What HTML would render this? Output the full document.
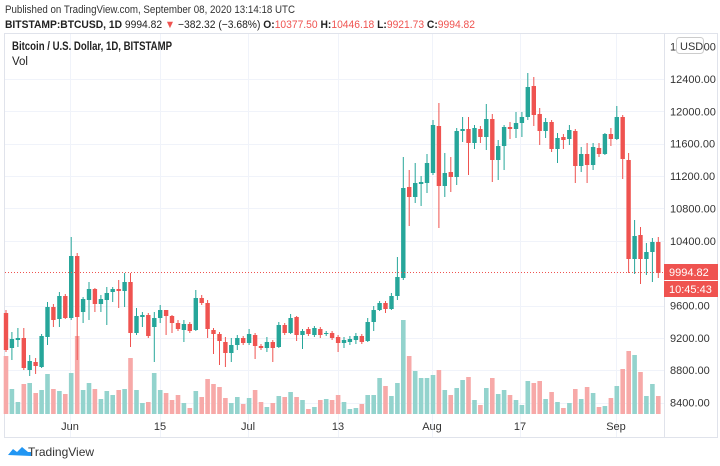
<!DOCTYPE html>
<html><head><meta charset="utf-8"><style>
body{margin:0;width:720px;height:466px;background:#fff;overflow:hidden;font-family:"Liberation Sans",sans-serif;}
svg{position:absolute;left:0;top:0}
</style></head><body>
<svg id="s" width="720" height="466" xmlns="http://www.w3.org/2000/svg" font-family="Liberation Sans, sans-serif">
<text x="5" y="13" font-size="11" fill="#333" textLength="290" lengthAdjust="spacingAndGlyphs">Published on TradingView.com, September 08, 2020 13:14:18 UTC</text>
<text x="5" y="28" font-size="11" fill="#222" textLength="470" lengthAdjust="spacingAndGlyphs"><tspan font-weight="bold">BITSTAMP:BTCUSD, 1D</tspan> 9994.82 <tspan fill="#ef5350">▼</tspan> −382.32 (−3.68%) <tspan font-weight="bold">O:</tspan><tspan fill="#ef5350">10377.50</tspan> <tspan font-weight="bold">H:</tspan><tspan fill="#ef5350">10446.18</tspan> <tspan font-weight="bold">L:</tspan><tspan fill="#ef5350">9921.73</tspan> <tspan font-weight="bold">C:</tspan><tspan fill="#ef5350">9994.82</tspan></text>
<rect x="4.5" y="33.5" width="713" height="404" fill="none" stroke="#e0e3eb"/>
<line x1="664.5" y1="34" x2="664.5" y2="437" stroke="#e0e3eb"/>
<g id="grid" stroke="#f0f3fa" stroke-width="1"></g>
<g id="vol"></g>
<g id="cdl"></g>
<line x1="5" y1="272.5" x2="664" y2="272.5" stroke="#ef5350" stroke-dasharray="1,2" stroke-width="1"/>
<text x="12" y="50" font-size="11.5" font-weight="bold" fill="#222" textLength="160" lengthAdjust="spacingAndGlyphs">Bitcoin / U.S. Dollar, 1D, BITSTAMP</text>
<text x="12" y="65" font-size="11.5" fill="#222">Vol</text>
<g id="axis" font-size="11" fill="#333"></g>
<rect x="664" y="264" width="54" height="16" fill="#ef5350"/>
<text x="669" y="276" font-size="11" fill="#fff">9994.82</text>
<rect x="664" y="281" width="54" height="16" fill="#ef5350"/>
<text x="669" y="293" font-size="11" fill="#fff">10:45:43</text>
<rect x="676.5" y="37.5" width="27" height="16" rx="3" fill="#fff" stroke="#ccc"/>
<text x="680" y="50" font-size="11" fill="#333">USD</text>
<g id="tl" font-size="11" fill="#333"></g>
<path d="M8 455 l5 -6 l4 3 l5 -5 l6 5 l3 0 l0 4 z" fill="#2196f3"/>
<text x="28" y="456" font-size="12" fill="#333">TradingView</text>
</svg>
<script>
var ns="http://www.w3.org/2000/svg";
function el(p,t,a){var e=document.createElementNS(ns,t);for(var k in a)e.setAttribute(k,a[k]);document.getElementById(p).appendChild(e);return e;}
var prices=[12800,12400,12000,11600,11200,10800,10400,9600,9200,8800,8400];
prices.forEach(function(p){var y=79+(12400-p)*0.0809;if(p<12800)el("grid","line",{x1:5,x2:664,y1:Math.round(y)+.5,y2:Math.round(y)+.5});var t=el("axis","text",{x:670,y:y+4});t.textContent=p.toFixed(2);});
var tl=[[70,"Jun"],[160,"15"],[248,"Jul"],[338,"13"],[432,"Aug"],[520,"17"],[616,"Sep"]];
tl.forEach(function(a){el("grid","line",{x1:a[0]+.5,x2:a[0]+.5,y1:34,y2:437});var t=el("tl","text",{x:a[0],y:430,"text-anchor":"middle"});t.textContent=a[1];});
var C=[
"r,310,313,350,352","g,332,339,348,360","g,328,338,340,347","r,328,338,368,370","g,355,361,370,376","r,358,362,366,374","g,334,336,367,368","g,302,307,337,345","r,304,307,320,327","g,292,296,319,327",
"r,294,296,318,319","g,237,256,318,320","r,253,256,317,360","g,297,299,312,323","g,282,289,300,320","r,288,289,304,312","g,295,299,304,312","g,287,293,300,325","g,287,289,292,302","r,280,289,291,308",
"g,273,282,291,307","r,273,282,333,347","g,308,316,333,335","g,312,315,317,327","r,313,315,336,338","g,312,318,327,362","g,305,310,318,323","r,310,310,316,335","r,315,316,323,333","r,320,323,329,331",
"g,320,324,330,342","r,322,324,331,333","g,290,298,330,331","r,295,298,303,305","r,300,303,329,338","r,328,330,334,354","r,332,334,341,365","r,337,342,353,367","g,338,345,353,362","g,335,338,345,350",
"r,336,338,343,345","g,329,334,343,345","r,333,335,346,359","r,344,346,348,350","g,337,342,348,352","r,340,342,348,362","g,322,325,347,348","r,323,325,333,335","g,314,318,333,334","r,316,317,335,341",
"g,329,331,335,349","r,327,329,334,336","g,326,328,335,337","r,327,329,335,338","g,331,333,334,336","r,331,333,338,340","r,335,337,343,352","g,337,340,343,348","g,336,339,342,345","g,333,336,340,344",
"r,334,336,342,344","g,318,322,341,342","g,306,310,322,331","g,301,303,310,311","r,301,303,309,313","g,293,296,309,310","g,257,277,296,300","g,157,188,278,280","r,170,187,197,226","g,163,183,197,203",
"g,176,182,184,206","g,154,163,183,193","g,120,125,173,175","r,103,126,186,228","g,153,173,186,197","r,157,172,177,192","g,128,131,177,185","g,117,129,131,142","r,117,129,143,175","g,125,128,143,149",
"r,126,129,137,143","g,104,119,137,150","r,114,119,160,182","g,140,146,160,180","g,125,127,146,170","r,122,127,129,139","g,112,123,129,138","g,112,117,123,137","g,73,87,117,120","r,77,86,115,126",
"r,108,114,131,145","g,118,122,131,138","r,120,122,149,152","g,133,138,149,163","r,134,137,140,149","g,125,130,139,145","r,129,131,166,183","g,147,154,166,172","r,143,154,165,183","g,143,147,165,170",
"r,143,148,154,157","g,133,134,154,155","r,128,134,139,146","g,106,117,139,140","r,115,117,159,179","r,153,160,259,273","g,220,236,259,274","r,227,235,259,284","g,243,252,259,275","g,238,242,252,282","r,237,242,273,278"];
var V=[356,389,402,384,383,393,390,374,389,391,394,373,336,390,383,389,399,391,395,390,389,358,390,403,402,373,390,393,400,395,403,408,391,397,379,384,387,398,403,397,404,398,390,402,407,403,396,397,392,397,400,409,407,400,399,400,395,402,409,408,404,395,395,378,386,396,383,320,356,371,378,378,375,370,390,395,388,380,377,400,405,388,378,394,390,395,400,405,381,383,381,399,392,402,408,403,389,399,387,393,407,406,398,386,369,351,355,372,396,384,396];
C.forEach(function(s,i){var a=s.split(","),g=a[0]=="g",col=g?"#26a69a":"#ef5350";var x=6+i*5.93;var h=+a[1],t=+a[2],b=+a[3],l=+a[4];
var vc=g?"#93d3cd":"#f7a9a8";el("vol","rect",{x:(x-2.3).toFixed(1),y:V[i],width:4.6,height:414-V[i],fill:vc});
el("cdl","line",{x1:x.toFixed(1),x2:x.toFixed(1),y1:h,y2:l,stroke:col,"stroke-width":1});
el("cdl","rect",{x:(x-2.2).toFixed(1),y:t,width:4.4,height:Math.max(1,b-t),fill:col});});
</script>
</body></html>
